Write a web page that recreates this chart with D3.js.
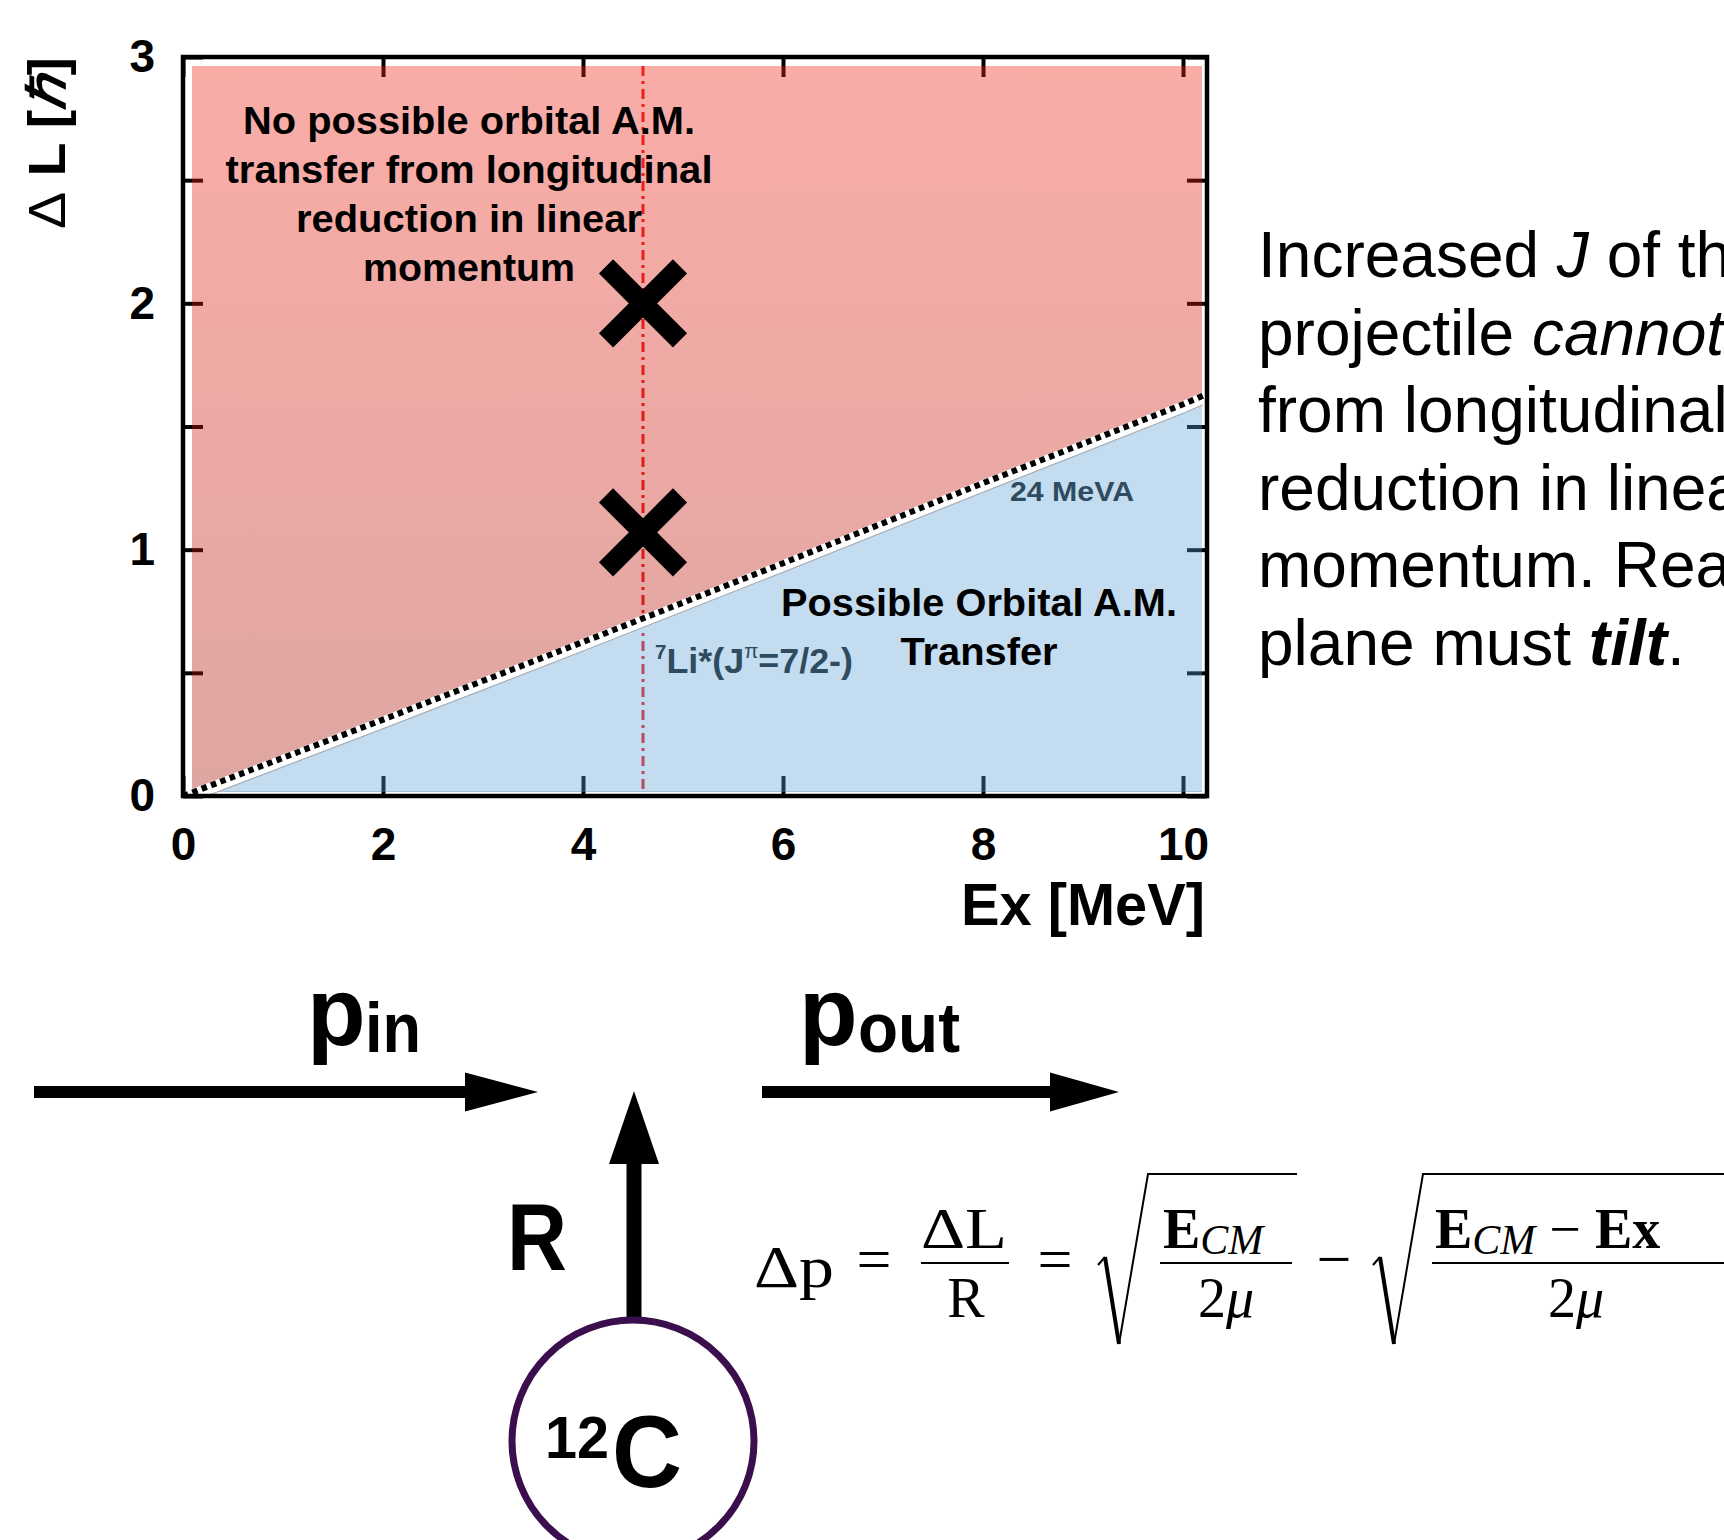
<!DOCTYPE html>
<html><head><meta charset="utf-8">
<script src="https://cdn.jsdelivr.net/npm/d3@7"></script>
<style>html,body{margin:0;padding:0;background:#fff;overflow:hidden}</style>
</head><body>
<svg id="c" width="1724" height="1540" xmlns="http://www.w3.org/2000/svg"></svg>
<script>
// ---------------- data ----------------
const xTicks = [0, 2, 4, 6, 8, 10];
const xTickLabels = ["0", "2", "4", "6", "8", "10"];
const yTicks = [0, 0.5, 1, 1.5, 2, 2.5, 3];
const yTickLabels = ["0", "", "1", "", "2", "", "3"];
const boundaryEx = [0, 2, 4, 6, 8, 10, 10.2];
const boundaryDL = [0, 0.31, 0.625, 0.945, 1.27, 1.59, 1.625];
const markerEx = [4.6, 4.6];
const markerDL = [2.0, 1.07];
const stateEx = 4.6;
const noTransferLines = ["No possible orbital A.M.", "transfer from longitudinal", "reduction in linear", "momentum"];
const transferLines = ["Possible Orbital A.M.", "Transfer"];

const boundary = boundaryEx.map((e, i) => [e, boundaryDL[i]]);
const markers = markerEx.map((e, i) => [e, markerDL[i]]);

// ---------------- setup ----------------
const svg = d3.select("#c");
const sans = "'Liberation Sans', Arial, Helvetica, sans-serif";
const serif = "'Liberation Serif', 'DejaVu Serif', serif";
const x = d3.scaleLinear().domain([0, 10]).range([183, 1183]);
const y = d3.scaleLinear().domain([0, 3]).range([796, 57]);
const frame = { l: x(0), r: x(10.24), t: y(3), b: y(0) };
const fillBox = { l: frame.l + 9, r: frame.r - 5, t: frame.t + 9, b: frame.b - 4 };

const defs = svg.append("defs");
const pg = defs.append("linearGradient").attr("id", "pinkGrad")
  .attr("gradientUnits", "userSpaceOnUse").attr("x1", 0).attr("x2", 0)
  .attr("y1", fillBox.t).attr("y2", fillBox.b);
pg.append("stop").attr("offset", 0).attr("stop-color", "rgb(242,37,23)").attr("stop-opacity", 0.38);
pg.append("stop").attr("offset", 1).attr("stop-color", "rgb(168,21,10)").attr("stop-opacity", 0.38);
defs.append("clipPath").attr("id", "fillClip").append("rect")
  .attr("x", fillBox.l).attr("y", fillBox.t)
  .attr("width", fillBox.r - fillBox.l).attr("height", fillBox.b - fillBox.t);
defs.append("clipPath").attr("id", "frameClip").append("rect")
  .attr("x", frame.l).attr("y", frame.t)
  .attr("width", frame.r - frame.l).attr("height", frame.b - frame.t);

// ---------------- axes (ticks under translucent fills) ----------------
function styleAxis(g) {
  g.select(".domain").remove();
  g.selectAll(".tick line").attr("stroke", "#000").attr("stroke-width", 4);
  g.selectAll(".tick text").attr("font-family", sans).attr("font-weight", "bold")
    .attr("font-size", 46).attr("fill", "#000");
}
svg.append("g").attr("transform", `translate(0,${frame.b})`)
  .call(d3.axisBottom(x).tickValues(xTicks).tickSize(-20).tickPadding(31)
    .tickFormat((d, i) => xTickLabels[i])).call(styleAxis);
svg.append("g").attr("transform", `translate(0,${frame.t})`)
  .call(d3.axisTop(x).tickValues(xTicks).tickSize(-20).tickFormat("")).call(styleAxis);
svg.append("g").attr("transform", `translate(${frame.l},0)`)
  .call(d3.axisLeft(y).tickValues(yTicks).tickSize(-20).tickPadding(28)
    .tickFormat((d, i) => yTickLabels[i])).call(styleAxis);
svg.append("g").attr("transform", `translate(${frame.r},0)`)
  .call(d3.axisRight(y).tickValues(yTicks).tickSize(-20).tickFormat("")).call(styleAxis);

// ---------------- state line (under fills) ----------------
svg.append("line")
  .attr("x1", x(stateEx)).attr("x2", x(stateEx))
  .attr("y1", fillBox.t).attr("y2", frame.b)
  .attr("stroke", "#ee1c24").attr("stroke-width", 3)
  .attr("stroke-dasharray", "10 5 3 5");

// ---------------- regions ----------------
const pinkArea = d3.area().x(d => x(d[0])).y0(fillBox.t).y1(d => y(d[1]));
svg.append("path").datum(boundary).attr("d", pinkArea)
  .attr("fill", "url(#pinkGrad)").attr("clip-path", "url(#fillClip)");

const blueArea = d3.area().x(d => x(d[0])).y0(fillBox.b).y1(d => y(d[1]) + 9);
svg.append("path").datum(boundary).attr("d", blueArea)
  .attr("fill", "rgb(91,158,213)").attr("fill-opacity", 0.36)
  .attr("stroke", "rgba(80,100,120,0.45)").attr("stroke-width", 1.2)
  .attr("clip-path", "url(#fillClip)");

const bLine = d3.line().x(d => x(d[0])).y(d => y(d[1]));
const gLine = svg.append("g").attr("clip-path", "url(#frameClip)");
gLine.append("path").datum(boundary).attr("d", bLine)
  .attr("transform", "translate(0,3)")
  .attr("fill", "none").attr("stroke", "#fff").attr("stroke-width", 12);
gLine.append("path").datum(boundary).attr("d", bLine)
  .attr("transform", "translate(0,9)")
  .attr("fill", "none").attr("stroke", "#9aa3ab").attr("stroke-width", 1);
gLine.append("path").datum(boundary).attr("d", bLine)
  .attr("fill", "none").attr("stroke", "#000").attr("stroke-width", 6)
  .attr("stroke-dasharray", "5.5 4.5");

// ---------------- frame ----------------
svg.append("rect").attr("x", frame.l).attr("y", frame.t)
  .attr("width", frame.r - frame.l).attr("height", frame.b - frame.t)
  .attr("fill", "none").attr("stroke", "#000").attr("stroke-width", 4.5);

// ---------------- X markers ----------------
svg.selectAll(".mk").data(markers).join("path").attr("class", "mk")
  .attr("transform", d => `translate(${x(d[0])},${y(d[1])})`)
  .attr("d", "M-37,-37L37,37M-37,37L37,-37")
  .attr("stroke", "#000").attr("stroke-width", 20).attr("fill", "none");

// ---------------- helpers ----------------
function txt(px, py, s, o = {}) {
  const t = svg.append("text").attr("x", px).attr("y", py)
    .attr("font-family", o.family || sans)
    .attr("font-size", o.size || 40)
    .attr("font-weight", o.weight || "normal")
    .attr("font-style", o.style || "normal")
    .attr("fill", o.fill || "#000")
    .attr("text-anchor", o.anchor || "start").text(s);
  if (o.len) t.attr("textLength", o.len).attr("lengthAdjust", "spacingAndGlyphs");
  return t;
}

// ---------------- annotations ----------------
const ntLens = [452, 487, 346, 212];
noTransferLines.forEach((s, i) => txt(469, 134 + i * 49, s,
  { size: 39, weight: "bold", anchor: "middle", len: ntLens[i] }));
const tLens = [396, 157];
transferLines.forEach((s, i) => txt(979, 616 + i * 48.5, s,
  { size: 39, weight: "bold", anchor: "middle", len: tLens[i] }));
txt(1010, 501, "24 MeVA", { size: 27, weight: "bold", fill: "#2e4b5f", len: 124 });

const li = svg.append("text").attr("x", 655).attr("y", 673)
  .attr("font-family", sans).attr("font-weight", "bold").attr("fill", "#2e4b5f").attr("font-size", 35)
  .attr("textLength", 198).attr("lengthAdjust", "spacingAndGlyphs");
li.append("tspan").attr("font-size", 20).attr("dy", -14).text("7");
li.append("tspan").attr("dy", 14).text("Li*(J");
li.append("tspan").attr("font-size", 20).attr("font-weight", "normal").attr("dy", -15).text("π");
li.append("tspan").attr("dy", 15).text("=7/2-)");

// axis titles
const yt = svg.append("text").attr("transform", "translate(65,143) rotate(-90)")
  .attr("text-anchor", "middle").attr("font-family", sans).attr("font-size", 52)
  .attr("font-weight", "bold").attr("textLength", 172).attr("lengthAdjust", "spacingAndGlyphs");
yt.append("tspan").attr("font-weight", "normal").text("Δ");
yt.append("tspan").text(" L [");
yt.append("tspan").attr("font-style", "italic").text("ℏ");
yt.append("tspan").text("]");
txt(1205, 925, "Ex [MeV]", { size: 60, weight: "bold", anchor: "end", len: 244 });

// ---------------- right paragraph (cut by the page edge, as in the source) ----------------
const para = [
  [["Increased ", ""], ["J", "i"], [" of the", ""]],
  [["projectile ", ""], ["cannot", "i"]],
  [["from longitudinal", ""]],
  [["reduction in linear", ""]],
  [["momentum. Reaction", ""]],
  [["plane must ", ""], ["tilt", "bi"], [".", ""]]
];
para.forEach((line, i) => {
  const t = svg.append("text").attr("x", 1258).attr("y", 277 + i * 77.5)
    .attr("font-family", sans).attr("font-size", 64).attr("fill", "#000");
  line.forEach(([s, st]) => {
    const sp = t.append("tspan").text(s);
    if (st.includes("i")) sp.attr("font-style", "italic");
    if (st.includes("b")) sp.attr("font-weight", "bold");
  });
});

// ---------------- bottom diagram ----------------
function hArrow(x0, x1, headBase, yy) {
  svg.append("line").attr("x1", x0).attr("x2", headBase + 5).attr("y1", yy).attr("y2", yy)
    .attr("stroke", "#000").attr("stroke-width", 12);
  svg.append("path").attr("d", `M${headBase},${yy - 19.5}L${x1},${yy}L${headBase},${yy + 19.5}Z`).attr("fill", "#000");
}
hArrow(34, 538, 465, 1092);
hArrow(762, 1119, 1050, 1092);
svg.append("line").attr("x1", 634).attr("x2", 634).attr("y1", 1320).attr("y2", 1160)
  .attr("stroke", "#000").attr("stroke-width", 15);
svg.append("path").attr("d", "M609,1164L634,1091L659,1164Z").attr("fill", "#000");

txt(307, 1045, "p", { size: 96, weight: "bold" });
txt(365, 1052, "in", { size: 70, weight: "bold", len: 56 });
txt(799, 1045, "p", { size: 96, weight: "bold" });
txt(858, 1052, "out", { size: 70, weight: "bold", len: 102 });
txt(537, 1270, "R", { size: 94, weight: "bold", anchor: "middle", len: 60 });

svg.append("circle").attr("cx", 633).attr("cy", 1441).attr("r", 121)
  .attr("fill", "#fff").attr("stroke", "#3b0f4d").attr("stroke-width", 7);
txt(545, 1458, "12", { size: 60, weight: "bold", len: 64 });
txt(612, 1487, "C", { size: 102, weight: "bold", len: 70 });

// ---------------- formula ----------------
const fs = 56;
txt(754, 1287, "Δp", { family: serif, size: 60, len: 80 });
txt(874, 1280, "=", { family: serif, size: 62, anchor: "middle" });
txt(921, 1248, "ΔL", { family: serif, size: fs, len: 86 });
svg.append("line").attr("x1", 921).attr("x2", 1009).attr("y1", 1263).attr("y2", 1263).attr("stroke", "#000").attr("stroke-width", 2.2);
txt(966, 1317, "R", { family: serif, size: fs, anchor: "middle" });
txt(1055, 1280, "=", { family: serif, size: 62, anchor: "middle" });

function radical(x0, xEnd) {
  svg.append("path").attr("d", `M${x0},${1265}L${x0 + 7},${1257}`).attr("stroke", "#000").attr("stroke-width", 2).attr("fill", "none");
  svg.append("path").attr("d", `M${x0 + 7},${1257}L${x0 + 21},${1344}`).attr("stroke", "#000").attr("stroke-width", 4).attr("fill", "none");
  svg.append("path").attr("d", `M${x0 + 21},${1344}L${x0 + 50},${1174}H${xEnd}`).attr("stroke", "#000").attr("stroke-width", 2).attr("fill", "none");
}
radical(1098, 1297);
const n1 = svg.append("text").attr("x", 1163).attr("y", 1248).attr("font-family", serif).attr("font-size", fs);
n1.append("tspan").attr("font-weight", "bold").text("E");
n1.append("tspan").attr("font-style", "italic").attr("font-size", 42).attr("dy", 6).text("CM");
svg.append("line").attr("x1", 1160).attr("x2", 1292).attr("y1", 1263).attr("y2", 1263).attr("stroke", "#000").attr("stroke-width", 2.2);
const d1 = svg.append("text").attr("x", 1226).attr("y", 1317).attr("font-family", serif).attr("font-size", fs).attr("text-anchor", "middle");
d1.append("tspan").text("2");
d1.append("tspan").attr("font-style", "italic").text("μ");
txt(1334, 1280, "−", { family: serif, size: 62, anchor: "middle" });

radical(1373, 1724);
const n2 = svg.append("text").attr("x", 1435).attr("y", 1248).attr("font-family", serif).attr("font-size", fs);
n2.append("tspan").attr("font-weight", "bold").text("E");
n2.append("tspan").attr("font-style", "italic").attr("font-size", 42).attr("dy", 6).text("CM");
n2.append("tspan").attr("dy", -6).text(" − ");
n2.append("tspan").attr("font-weight", "bold").text("Ex");
svg.append("line").attr("x1", 1432).attr("x2", 1724).attr("y1", 1263).attr("y2", 1263).attr("stroke", "#000").attr("stroke-width", 2.2);
const d2 = svg.append("text").attr("x", 1576).attr("y", 1317).attr("font-family", serif).attr("font-size", fs).attr("text-anchor", "middle");
d2.append("tspan").text("2");
d2.append("tspan").attr("font-style", "italic").text("μ");
</script>
</body></html>
